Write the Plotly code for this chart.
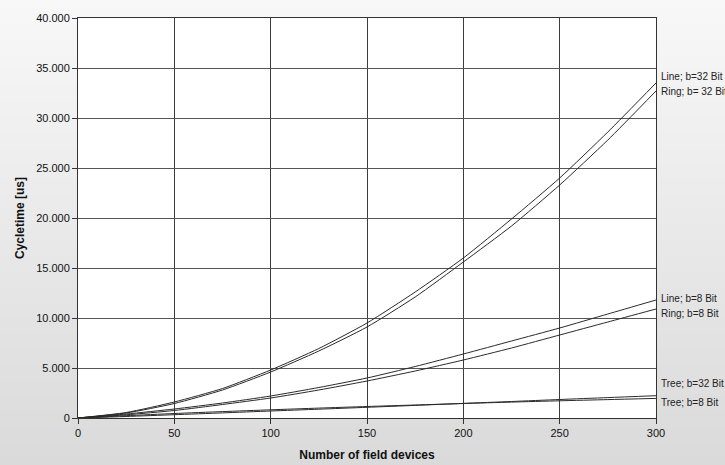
import plotly.graph_objects as go

# Number of field devices
devices = [0, 25, 50, 75, 100, 125, 150, 175, 200, 225, 250, 275, 300]

# Cycle time in microseconds per topology and bus width
line_32 = [0, 550, 1600, 2950, 4800, 6950, 9500, 12600, 16000, 19900, 24000, 28600, 33500]
ring_32 = [0, 500, 1450, 2800, 4600, 6700, 9100, 12100, 15600, 19200, 23300, 27800, 32700]
line_8 = [0, 400, 900, 1500, 2200, 3050, 4000, 5150, 6400, 7700, 9000, 10400, 11800]
ring_8 = [0, 320, 750, 1350, 2000, 2800, 3700, 4700, 5800, 7000, 8300, 9600, 10900]
tree_32 = [0, 150, 330, 510, 700, 880, 1070, 1260, 1460, 1650, 1850, 2040, 2230]
tree_8 = [0, 230, 450, 640, 820, 990, 1150, 1300, 1450, 1590, 1720, 1840, 1960]

series_names = ["Line; b=32 Bit", "Ring; b= 32 Bit", "Line; b=8 Bit",
                "Ring; b=8 Bit", "Tree; b=32 Bit", "Tree; b=8 Bit"]
series_values = [line_32, ring_32, line_8, ring_8, tree_32, tree_8]

x_ticks = [0, 50, 100, 150, 200, 250, 300]
y_ticks = [0, 5000, 10000, 15000, 20000, 25000, 30000, 35000, 40000]

W, H = 725, 465
M_L, M_R, M_T, M_B = 78, 69, 18, 47
PW, PH = W - M_L - M_R, H - M_T - M_B

fig = go.Figure()
for name, vals in zip(series_names, series_values):
    fig.add_trace(go.Scatter(
        x=devices, y=vals, mode="lines", name=name,
        line=dict(color="#2a2a2a", width=1, shape="spline", smoothing=0.6),
        hoverinfo="x+y+name",
    ))

# Series labels at the right end of the curves (vertical pixel positions)
label_px = [76, 91, 298, 313, 383, 402]
annotations = []
for name, ypx in zip(series_names, label_px):
    annotations.append(dict(
        text=name, xref="paper", yref="paper",
        x=1.0, y=(H - M_B - ypx) / PH,
        xanchor="left", yanchor="middle", xshift=3, showarrow=False,
        font=dict(family="Liberation Sans, Arial", size=10, color="#222222"),
    ))

# Soft grey backdrop fading from light at the top to darker at the bottom
shapes = []
n_bands = 60
x0p, x1p = -M_L / PW, (W - M_L) / PW
y_bot, y_top = -M_B / PH, (H - M_B) / PH
for i in range(n_bands):
    t = i / (n_bands - 1)
    g = round(248 - t * (248 - 218))
    ya = y_top - (y_top - y_bot) * i / n_bands
    yb = y_top - (y_top - y_bot) * (i + 1) / n_bands
    shapes.append(dict(
        type="rect", xref="paper", yref="paper", layer="below",
        x0=x0p, x1=x1p, y0=yb - 0.002, y1=ya,
        fillcolor=f"rgb({g},{g},{g})", line=dict(width=0),
    ))
shapes.append(dict(type="rect", xref="paper", yref="paper", layer="below",
                   x0=0, x1=1, y0=0, y1=1, fillcolor="white", line=dict(width=0)))

axis_font = dict(family="Liberation Sans, Arial", size=11, color="#111111")
title_font = dict(family="Liberation Sans, Arial", size=12, color="#111111")

fig.update_layout(
    width=W, height=H,
    margin=dict(l=M_L, r=M_R, t=M_T, b=M_B, pad=0),
    paper_bgcolor="#e4e4e4", plot_bgcolor="white",
    showlegend=False,
    separators=",.",
    shapes=shapes,
    annotations=annotations,
    xaxis=dict(
        range=[0, 300], tickvals=x_ticks, ticks="outside", ticklen=5,
        tickcolor="#333333", showgrid=True, gridcolor="#3c3c3c", gridwidth=1,
        showline=True, linecolor="#333333", linewidth=1, mirror=True,
        zeroline=False, tickfont=axis_font, automargin=False,
        title=dict(text="<b>Number of field devices</b>", font=title_font, standoff=12),
    ),
    yaxis=dict(
        range=[0, 40000], tickvals=y_ticks, tickformat=",.0f", ticks="outside",
        ticklen=5, tickcolor="#333333", showgrid=True, gridcolor="#555555",
        gridwidth=1, showline=True, linecolor="#333333", linewidth=1, mirror=True,
        zeroline=False, tickfont=axis_font, automargin=False,
        title=dict(text="<b>Cycletime [us]</b>", font=title_font, standoff=8),
    ),
)

fig.write_html("out.html")
